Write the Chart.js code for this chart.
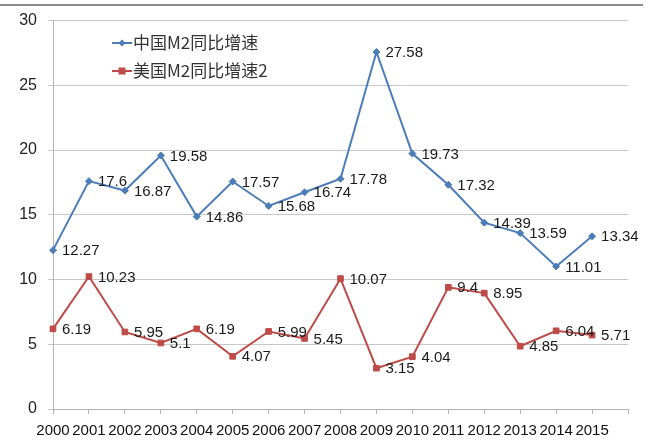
<!DOCTYPE html>
<html>
<head>
<meta charset="utf-8">
<script src="https://cdn.jsdelivr.net/npm/chart.js@4/dist/chart.umd.min.js"></script>
<style>
html,body{margin:0;padding:0;background:#fff;}
#wrap{position:relative;width:646px;height:440px;}
</style>
</head>
<body>
<div id="wrap"><canvas id="c" width="646" height="440"></canvas></div>
<script>
const categories = ['2000','2001','2002','2003','2004','2005','2006','2007','2008','2009','2010','2011','2012','2013','2014','2015',''];
const chinaM2 = [12.27,17.6,16.87,19.58,14.86,17.57,15.68,16.74,17.78,27.58,19.73,17.32,14.39,13.59,11.01,13.34];
const usM2 = [6.19,10.23,5.95,5.1,6.19,4.07,5.99,5.45,10.07,3.15,4.04,9.4,8.95,4.85,6.04,5.71];
const seriesNames = ['中国M2同比增速','美国M2同比增速2'];
const yTicks = [0,5,10,15,20,25,30];

const FONT = '"Liberation Sans", Arial, sans-serif';
const BLUE = '#4c7db8';
const RED = '#be4b48';

const labelPlugin = {
  id: 'pointLabels',
  afterDatasetsDraw(chart) {
    const ctx = chart.ctx;
    ctx.save();
    ctx.font = '15px ' + FONT;
    ctx.fillStyle = '#1a1a1a';
    ctx.textAlign = 'left';
    ctx.textBaseline = 'middle';
    chart.data.datasets.forEach((ds, i) => {
      const meta = chart.getDatasetMeta(i);
      meta.data.forEach((pt, j) => {
        ctx.fillText(String(ds.data[j]), pt.x + 9, pt.y + 1);
      });
    });
    ctx.restore();
  }
};

const legendPlugin = {
  id: 'insideLegend',
  afterDraw(chart) {
    const ctx = chart.ctx;
    ctx.save();
    ctx.strokeStyle = '#8c8c8c';
    ctx.lineWidth = 2;
    ctx.beginPath(); ctx.moveTo(0, 5); ctx.lineTo(643, 5); ctx.stroke();
    const x0 = 112, y0 = 43, dy = 28;
    chart.data.datasets.forEach((ds, i) => {
      const y = y0 + i * dy;
      ctx.strokeStyle = ds.borderColor;
      ctx.lineWidth = 2;
      ctx.beginPath(); ctx.moveTo(x0, y); ctx.lineTo(x0 + 20, y); ctx.stroke();
      ctx.fillStyle = ds.pointBackgroundColor;
      if (ds.pointStyle === 'rectRot') {
        ctx.beginPath();
        ctx.moveTo(x0 + 10, y - 3.5); ctx.lineTo(x0 + 13.5, y); ctx.lineTo(x0 + 10, y + 3.5); ctx.lineTo(x0 + 6.5, y);
        ctx.closePath(); ctx.fill();
      } else {
        ctx.fillRect(x0 + 6.5, y - 3.5, 7, 7);
      }
      ctx.fillStyle = '#333';
      ctx.font = '17px "Noto Sans CJK SC", sans-serif';
      ctx.textAlign = 'left';
      ctx.textBaseline = 'middle';
      ctx.fillText(ds.label, x0 + 21, y);
    });
    ctx.restore();
  }
};

new Chart(document.getElementById('c'), {
  type: 'line',
  data: {
    labels: categories,
    datasets: [
      {
        label: seriesNames[0], data: chinaM2,
        borderColor: BLUE, backgroundColor: BLUE, pointBackgroundColor: BLUE, pointBorderColor: BLUE,
        borderWidth: 2, pointStyle: 'rectRot', pointRadius: 3.5, pointBorderWidth: 1, tension: 0
      },
      {
        label: seriesNames[1], data: usM2,
        borderColor: RED, backgroundColor: RED, pointBackgroundColor: RED, pointBorderColor: RED,
        borderWidth: 2, pointStyle: 'rect', pointRadius: 4, pointBorderWidth: 1, tension: 0
      }
    ]
  },
  options: {
    responsive: false,
    animation: false,
    devicePixelRatio: 1,
    layout: { padding: { top: 20, right: 18, left: 0, bottom: 0 } },
    plugins: { legend: { display: false }, tooltip: { enabled: false } },
    scales: {
      x: {
        type: 'category',
        offset: false,
        grid: { display: true, drawOnChartArea: false, drawTicks: true, tickLength: 5, color: '#b4b4b4' },
        border: { display: true, color: '#b4b4b4', width: 1 },
        ticks: { autoSkip: false, maxRotation: 0, minRotation: 0, padding: 8, color: '#111', font: { family: FONT, size: 15 } },
        afterFit(s) { s.height = 31; }
      },
      y: {
        min: 0, max: 30,
        afterBuildTicks(s) { s.ticks = yTicks.map(v => ({ value: v })); },
        grid: { color: '#c8c8c8', lineWidth: 1, drawTicks: true, tickLength: 5 },
        border: { display: true, color: '#b4b4b4', width: 1 },
        ticks: { padding: 11, color: '#222', font: { family: FONT, size: 16 } },
        afterFit(s) { s.width = 53; }
      }
    }
  },
  plugins: [labelPlugin, legendPlugin]
});
</script>
</body>
</html>
